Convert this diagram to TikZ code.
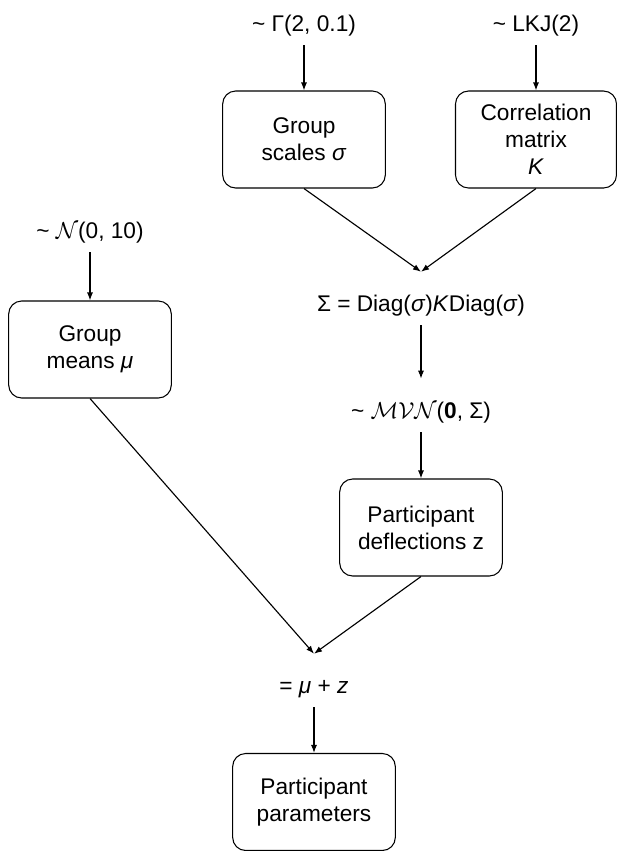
\documentclass[tikz,border=0pt]{standalone}
\usepackage{fontspec}
\setmainfont{Liberation Sans}
\usetikzlibrary{arrows.meta}

\begin{document}
\begin{tikzpicture}[x=0.75pt,y=0.75pt,yscale=-1,xscale=1,
    every node/.style={font=\fontsize{17}{20.25}\selectfont},
    box/.style={draw, rounded corners=9.75pt, minimum width=122pt, minimum height=72.75pt, align=center, line width=0.8pt},
    dist/.style={anchor=base, text height=22.5pt, text depth=3.75pt, inner ysep=6.75pt},
    arr/.style={-{Latex[length=6pt,width=4.5pt]}, line width=0.85pt}]
    \useasboundingbox (0,0) rectangle (617,851);

    % priors on the top row
    \node[dist] (gam) at (304,31) {\textasciitilde{} Γ(2, 0.1)};
    \node[dist] (lkj) at (536,31) {\textasciitilde{} LKJ(2)};
    \node[box] (scl) at (304,139.5) {Group\\scales \textit{σ}};
    \node[box, minimum width=120.75pt] (cor) at (536,139.5) {Correlation\\matrix\\\textit{K}};

    % left branch
    \node[dist] (nrm) at (90,238) {\textasciitilde{} $\mathcal{N}$(0, 10)};
    \node[box] (mns) at (90,349.5) {Group\\means \textit{μ}};

    % covariance and deflections
    \node[dist] (cov) at (421,311) {Σ = Diag(\textit{σ})\textit{K}Diag(\textit{σ})};
    \node[dist] (mvn) at (421,418) {\textasciitilde{} $\mathcal{MVN}$(\textbf{0}, Σ)};
    \node[box] (dfl) at (421,527.5) {Participant\\deflections z};

    % combined
    \node[dist] (sum) at (314,693) {= \textit{μ} + \textit{z}};
    \node[box] (par) at (314,802) {Participant\\parameters};

    \draw[arr] (gam.south) -- (scl.north);
    \draw[arr] (lkj.south) -- (cor.north);
    \draw[arr] (scl.south) -- (cov.north);
    \draw[arr] (cor.south) -- (cov.north);
    \draw[arr] (cov.south) -- (mvn.north);
    \draw[arr] (mvn.south) -- (dfl.north);
    \draw[arr] (nrm.south) -- (mns.north);
    \draw[arr] (mns.south) -- (sum.north);
    \draw[arr] (dfl.south) -- (sum.north);
    \draw[arr] (sum.south) -- (par.north);
\end{tikzpicture}
\end{document}
